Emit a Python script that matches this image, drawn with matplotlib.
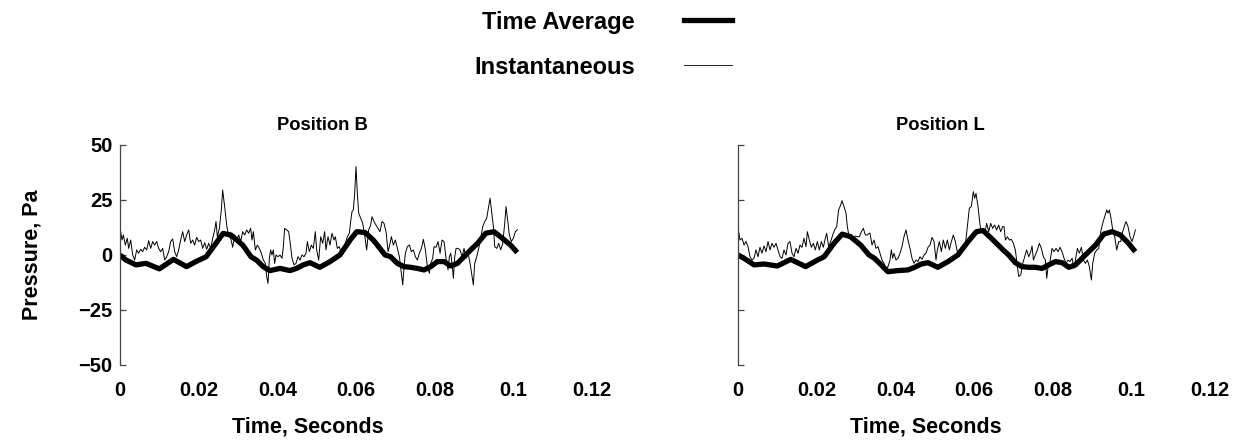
import matplotlib
matplotlib.use("Agg")
import matplotlib.pyplot as plt
from matplotlib.lines import Line2D

plt.rcParams.update({
    "font.family": ["Liberation Sans", "DejaVu Sans"],
    "font.weight": "bold", "font.size": 14.5,
    "axes.titleweight": "bold", "axes.labelweight": "bold",
    "axes.spines.top": False, "axes.spines.right": False,
    "axes.spines.bottom": False,
})

# ---- Position B : instantaneous (time in ms, pressure in Pa) ----
b_inst_t = [0.17, 0.51, 0.85, 1.36, 1.86, 2.20, 2.71, 3.22, 3.73, 4.24, 4.75, 5.25, 5.76, 6.27,
            6.78, 7.29, 7.80, 8.31, 8.81, 9.32, 9.83, 10.34, 10.85, 11.36, 11.87, 12.37, 12.88,
            13.39, 13.90, 14.41, 14.92, 15.42, 15.93, 16.44, 16.95, 17.46, 17.97, 18.48, 18.98,
            19.49, 20.00, 20.51, 21.02, 21.53, 22.04, 22.54, 23.05, 23.56, 24.07, 24.41, 24.75,
            25.26, 25.76, 26.10, 26.61, 27.12, 27.63, 28.14, 28.65, 29.15, 29.66, 30.17, 30.68,
            31.19, 31.70, 32.20, 32.71, 33.22,
            33.56, 33.90, 34.41, 34.91, 35.42, 35.93, 36.44, 36.95, 37.29, 37.63, 37.97, 38.30,
            38.64, 38.98, 39.32, 39.66, 40.17, 40.68, 41.19, 41.53, 41.86, 42.37, 42.88, 43.39,
            43.73, 44.24, 44.75, 45.25, 45.76, 46.27, 46.78, 47.29, 47.63, 48.14, 48.64, 49.15,
            49.66, 50.00, 50.51, 51.02, 51.53, 52.03, 52.37, 52.88, 53.39, 53.90, 54.41, 54.75,
            55.25, 55.76, 56.27, 56.78, 57.29, 57.80, 58.31, 58.64, 58.98, 59.32, 59.66, 60.00,
            60.34, 60.68, 61.19, 61.70, 62.20, 62.71, 63.22, 63.73, 64.07, 64.58, 65.08, 65.59,
            66.10, 66.61, 67.12,
            67.64, 68.15, 68.66, 69.00, 69.50, 70.01, 70.52, 71.03, 71.54, 71.88, 72.22, 72.55,
            73.06, 73.57, 74.08, 74.59, 75.10, 75.61, 76.11, 76.62, 77.13, 77.64, 78.15, 78.66,
            78.99, 79.50, 79.84, 80.35, 80.86, 81.37, 81.88, 82.39, 82.89, 83.40, 83.74, 84.08,
            84.42, 84.76, 85.10, 85.44, 85.94, 86.45, 86.96, 87.47, 87.98, 88.49, 89.00, 89.50,
            89.84, 90.18, 90.69, 91.20, 91.71, 92.22, 92.72, 93.23, 93.74, 94.08, 94.42, 94.93,
            95.27, 95.78, 96.28, 96.79, 97.30, 97.81, 98.15, 98.49, 98.99, 99.50, 100.01,
            100.52, 101.03]
b_inst_p = [10.6, 6.8, 9.1, 4.5, 7.6, 3.0, 6.8, 0.0, -2.3, 2.3, 0.8, 2.6, 1.5, 3.5,
            2.3, 6.5, 3.0, 6.1, 4.5, 6.1, 3.0, 1.5, 3.0, -2.3, -0.8, 1.5, 6.1,
            7.3, 1.5, -0.8, 2.3, 6.8, 10.6, 6.1, 9.1, 11.4, 5.3, 6.8, 4.5,
            8.0, 6.1, 6.8, 3.0, 5.6, 2.6, 5.3, 3.0, 7.6, 11.4, 15.2, 8.3,
            12.1, 20.5, 29.5, 22.0, 13.6, 8.3, 7.6, 3.5, 9.1, 6.8, 9.1, 6.1,
            10.6, 9.1, 11.4, 9.9, 12.1,
            6.8, 10.6, 2.3, 4.5, 3.0, 0.8, -2.3, -3.8, -9.8, -12.9, -1.5, 2.3,
            0.0, 2.3, -3.8, 0.0, -0.8, 0.0, -1.5, 3.8, 12.1, 11.4, 10.6, 3.8,
            -1.5, -4.5, -3.8, -0.8, -2.3, 0.0, -0.8, 0.8, 6.1, 1.5, 4.5, 3.0,
            10.6, 2.3, -2.3, 8.3, 5.3, 10.6, 2.3, 8.3, 4.5, 9.9, 6.8, 8.3,
            3.0, 3.8, 0.8, 3.5, 5.3, 8.3, 9.9, 15.2, 19.7, 20.5, 28.0, 40.2,
            28.0, 19.0, 16.7, 14.4, 9.1, 2.3, 11.4, 13.6, 17.4, 15.2, 13.6, 12.1,
            10.6, 15.2, 14.4,
            10.6, 1.5, 5.3, 8.3, 4.5, 6.8, 3.0, -0.8, -8.3, -13.6, -5.3, 0.8,
            3.8, 4.5, 1.5, 2.3, -0.8, -2.3, 0.8, 3.0, 7.1, 2.3, -5.3, -8.3,
            -3.8, -1.5, 3.8, 3.5, 6.1, 0.8, 6.8, 6.1, -1.5, -6.8, -0.8, 0.8,
            -3.8, -10.6, -0.8, 3.0, 3.0, 2.3, -0.8, 3.0, -1.5, 0.8, -3.8, -9.8,
            -13.6, -3.8, -0.8, 3.0, 7.6, 12.9, 15.2, 16.7, 22.0, 25.8, 20.5, 12.9,
            3.8, 3.0, 5.3, 2.3, 5.3, 14.4, 22.0, 16.7, 9.1, 6.1, 7.6,
            10.6, 11.4]

# ---- Position B : time average ----
b_avg_t = [0.0, 1.5, 4.1, 6.6, 10.0, 13.6, 16.9, 19.3, 21.9, 24.4, 26.2, 28.2, 31.2, 33.3,
           34.7, 36.4, 38.1, 40.7, 43.2, 44.9, 46.6, 48.3, 50.8, 53.4, 55.9, 58.5, 60.2,
           62.3, 64.4, 67.4, 68.8, 70.5, 72.2, 73.9, 75.6, 77.3, 79.0, 80.7, 82.4, 84.1,
           85.8, 88.3, 90.9, 93.0, 95.1, 97.2, 99.3, 101.0]
b_avg_p = [0.0, -2.3, -4.5, -3.8, -6.3, -2.0, -5.3, -3.0, -0.8, 5.3, 9.8, 9.1, 4.5, -0.8,
           -2.3, -5.3, -7.1, -6.1, -7.1, -6.1, -4.5, -3.5, -5.6, -3.0, 0.0, 6.8, 10.6,
           10.2, 6.8, 0.0, -0.8, -3.8, -5.3, -5.6, -6.1, -6.8, -5.3, -3.0, -3.0, -5.0,
           -3.8, 0.8, 5.3, 9.9, 10.6, 7.6, 4.5, 1.1]

# ---- Position L : instantaneous ----
l_inst_t = [0.17, 0.51, 1.02, 1.53, 2.03, 2.54, 3.05, 3.56, 4.07, 4.58, 5.09, 5.59, 6.10, 6.61,
            7.12, 7.63, 8.14, 8.64, 9.15, 9.66, 10.17, 10.68, 11.19, 11.70, 12.20, 12.71,
            13.22, 13.73, 14.24, 14.75, 15.26, 15.76, 16.27, 16.78, 17.29, 17.63, 18.14, 18.65,
            19.15, 19.66, 20.17, 20.68, 21.19, 21.70, 22.20, 22.54, 23.05, 23.56, 24.07, 24.58,
            25.09, 25.59, 26.10, 26.44, 26.95, 27.46, 27.80, 28.31, 28.82, 29.32, 29.83, 30.34,
            30.85, 31.36, 31.87, 32.37, 32.88, 33.39,
            33.56, 34.07, 34.58, 35.08, 35.59, 36.10, 36.61, 37.12, 37.63, 38.14, 38.64, 38.98,
            39.32, 39.66, 40.17, 40.68, 41.19, 41.69, 42.20, 42.71, 43.22, 43.73, 44.24, 44.75,
            45.25, 45.76, 46.27, 46.78, 47.29, 47.80, 48.31, 48.81, 49.32, 49.83, 50.34, 50.68,
            51.19, 51.70, 52.20, 52.71, 53.22, 53.73, 54.24, 54.75, 55.25, 55.76, 56.27, 56.78,
            57.29, 57.80, 58.31, 58.81, 59.32, 59.83, 60.17, 60.51, 61.02, 61.53, 61.87, 62.20,
            62.71, 63.22, 63.73, 64.24, 64.75, 65.25, 65.76, 66.27, 66.78, 67.29,
            67.64, 67.98, 68.49, 69.00, 69.50, 70.01, 70.52, 71.03, 71.37, 71.88, 72.39, 72.89,
            73.40, 73.91, 74.42, 74.76, 75.10, 75.61, 76.11, 76.62, 77.13, 77.64, 78.15, 78.49,
            78.83, 79.33, 79.84, 80.35, 80.86, 81.37, 81.88, 82.39, 82.89, 83.40, 83.91, 84.42,
            84.93, 85.44, 85.94, 86.28, 86.79, 87.30, 87.81, 88.32, 88.83, 89.33, 89.84, 90.18,
            90.69, 91.20, 91.71, 92.22, 92.72, 93.23, 93.74, 94.08, 94.42, 94.76, 95.27, 95.78,
            96.28, 96.79, 97.30, 97.81, 98.32, 98.66, 99.16, 99.67, 100.18, 100.69, 101.03]
l_inst_p = [10.6, 6.8, 7.6, 4.5, 6.1, 3.8, -0.8, -2.3, -1.5, 2.3, -0.8, 3.5, 0.8, 4.1,
            1.5, 6.1, 2.3, 5.3, 3.5, 5.3, 2.3, -0.8, -1.5, 2.3, 0.0, 5.3,
            6.1, 0.8, -0.8, 3.0, 0.8, 4.5, 3.5, 7.6, 3.8, 10.6, 6.8, 3.5,
            5.3, 2.3, 6.1, 2.3, 6.1, 3.5, 7.6, 9.9, 3.8, 6.1, 9.1, 11.4,
            12.9, 20.5, 22.7, 24.7, 22.0, 19.0, 12.9, 7.6, 9.1, 7.6, 8.6, 8.3,
            8.3, 10.6, 12.1, 9.1, 9.1, 9.9,
            9.9, 4.5, 6.8, 3.0, 3.8, 0.8, -2.3, -3.8, -6.1, -5.3, -2.3, 2.3,
            -1.5, 0.8, -2.3, -1.5, 0.8, 3.8, 8.3, 11.4, 6.8, 3.0, -1.5, -3.8,
            -2.3, -3.0, -0.8, -2.0, 0.0, 0.8, 3.5, 4.5, 8.0, 6.1, -2.3, 2.3,
            6.1, 1.5, 6.8, 3.0, 6.8, 2.3, 6.1, 9.1, 6.1, 1.5, 2.3, 2.6,
            4.1, 4.5, 12.9, 21.2, 22.0, 28.8, 25.8, 28.0, 22.0, 13.6, 10.6, 11.4,
            9.5, 14.4, 10.6, 14.4, 12.1, 13.6, 11.4, 13.6, 10.6, 12.9,
            12.9, 6.8, 8.3, 6.8, 7.1, 5.3, 2.3, -5.3, -9.8, -9.1, -3.8, -0.8,
            2.3, -0.8, 1.5, 4.1, -2.3, 0.0, 2.3, 5.3, 3.0, -0.8, -2.3, -10.6,
            -5.3, -3.0, 3.0, 1.5, 3.0, 1.5, 3.5, 1.5, -1.5, -3.8, -2.3, -3.0,
            -1.5, -6.1, -0.8, 3.0, 0.8, 3.5, -2.3, -3.8, -2.3, -5.3, -11.4, -3.8,
            0.8, 2.3, 3.0, 10.6, 14.4, 17.4, 20.5, 19.0, 20.5, 17.4, 11.4, 8.3,
            2.3, 6.1, 6.1, 10.6, 13.6, 15.2, 12.9, 8.3, 6.1, 9.1, 11.4]

# ---- Position L : time average ----
l_avg_t = [0.0, 1.5, 4.1, 6.6, 10.0, 13.4, 17.2, 20.2, 21.9, 24.4, 26.5, 28.6, 31.2, 33.3,
           34.7, 36.4, 38.1, 40.7, 43.2, 44.9, 46.6, 48.3, 50.8, 53.4, 55.9, 58.5, 60.6,
           62.3, 64.4, 67.4, 68.8, 70.5, 72.2, 73.9, 75.6, 77.3, 79.0, 80.7, 82.4, 84.1,
           85.8, 88.3, 90.9, 93.0, 95.1, 97.2, 99.3, 101.0]
l_avg_p = [0.0, -1.5, -4.5, -4.1, -5.0, -2.0, -5.3, -2.3, -0.8, 5.3, 9.5, 8.3, 4.5, 0.0,
           -1.5, -4.5, -7.6, -7.1, -6.8, -5.6, -4.1, -3.5, -5.6, -3.0, 0.0, 6.1, 10.6,
           11.1, 7.6, 2.3, 0.0, -3.5, -5.3, -5.6, -5.6, -6.1, -4.5, -3.0, -3.5, -5.6,
           -4.5, 0.0, 4.5, 9.5, 10.6, 9.1, 5.3, 1.5]

xticks = [0, 0.02, 0.04, 0.06, 0.08, 0.1, 0.12]
xticklabels = ["0", "0.02", "0.04", "0.06", "0.08", "0.1", "0.12"]
yticks = [-50, -25, 0, 25, 50]
yticklabels = ["\u221250", "\u221225", "0", "25", "50"]

panels = [
    ("Position B", b_inst_t, b_inst_p, b_avg_t, b_avg_p, True),
    ("Position L", l_inst_t, l_inst_p, l_avg_t, l_avg_p, False),
]

fig = plt.figure(figsize=(12.5, 4.4), dpi=100)
lefts = [0.096, 0.5904]
for left, (title, it, ip, at, ap, show_y) in zip(lefts, panels):
    ax = fig.add_axes([left, 0.1705, 0.3776, 0.5])
    ax.plot([t / 1000 for t in it], ip, color="black", lw=0.7)
    ax.plot([t / 1000 for t in at], ap, color="black", lw=3.8,
            solid_capstyle="butt", solid_joinstyle="round")
    ax.set_xlim(0, 0.12)
    ax.set_ylim(-50, 50)
    ax.set_xticks(xticks)
    ax.set_xticklabels(xticklabels)
    ax.set_yticks(yticks)
    if show_y:
        ax.set_yticklabels(yticklabels)
        ax.set_ylabel("Pressure, Pa", fontsize=15.5)
        ax.yaxis.set_label_coords(-0.165, 0.5)
    else:
        ax.set_yticklabels([])
    ax.spines["left"].set_color("#444444")
    ax.spines["left"].set_linewidth(0.9)
    ax.tick_params(axis="y", direction="in", length=4, width=0.9, color="#444444", pad=5.5)
    ax.tick_params(axis="x", length=0, pad=11.5)
    ax.set_xlabel("Time, Seconds", fontsize=15.5)
    ax.xaxis.set_label_coords(0.397, -0.233)
    ax.set_title(title, x=0.428, fontsize=13.2, pad=10.5)

handles = [Line2D([], [], color="black", lw=3.8),
           Line2D([], [], color="#222222", lw=0.7)]
fig.legend(handles, ["Time Average", "Instantaneous"], loc="upper right",
           bbox_to_anchor=(0.5855, 0.976), frameon=False, markerfirst=False,
           fontsize=17, handlelength=2.03, handletextpad=2.08, labelspacing=0.93,
           borderpad=0, borderaxespad=0)

fig.savefig("out.png", dpi=100)
